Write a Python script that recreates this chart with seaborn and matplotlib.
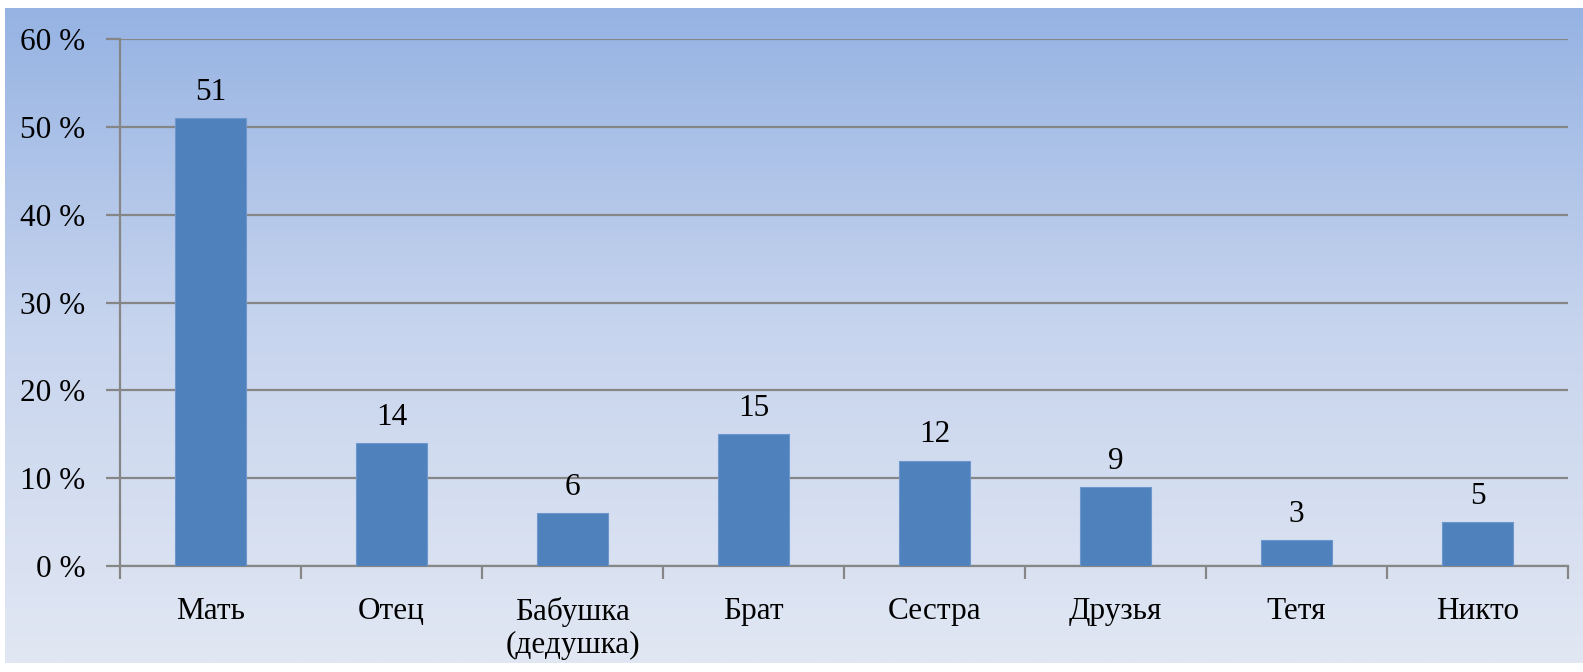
import numpy as np
import pandas as pd
import matplotlib
matplotlib.use("Agg")
import matplotlib.pyplot as plt
import matplotlib.ticker as mticker
from matplotlib.colors import LinearSegmentedColormap
import seaborn as sns

# ── Data ──────────────────────────────────────────────────────────────────
categories = ["Мать", "Отец", "Бабушка\n(дедушка)", "Брат", "Сестра",
              "Друзья", "Тетя", "Никто"]
values = [51, 14, 6, 15, 12, 9, 3, 5]
y_ticks = [0, 10, 20, 30, 40, 50, 60]

BAR_COLOR = "#4f81bd"
GRID_COLOR = "#868686"
FS = 22.5

sns.set_style("white")
plt.rcParams["font.family"] = ["Liberation Serif", "DejaVu Serif"]

fig = plt.figure(figsize=(15.83, 6.72), dpi=100)
fig.patch.set_facecolor("white")

# ── Gradient background ───────────────────────────────────────────────────
bg = fig.add_axes([5 / 1583, 9 / 672, 1 - 5 / 1583, 655 / 672], zorder=0)
cmap = LinearSegmentedColormap.from_list("bg", ["#e1e7f3", "#c8d5ee", "#96b3e3"])
grad = np.linspace(0, 1, 256).reshape(-1, 1)
bg.imshow(grad, aspect="auto", cmap=cmap, origin="lower", extent=[0, 1, 0, 1])
bg.set_axis_off()

# ── Bars ──────────────────────────────────────────────────────────────────
ax = fig.add_axes([120 / 1583, 1 - 566 / 672, 1448 / 1583, 527 / 672], zorder=1)
ax.patch.set_alpha(0)

df = pd.DataFrame({"who": categories, "pct": values})
sns.barplot(data=df, x="who", y="pct", color=BAR_COLOR, saturation=1,
            width=0.39, linewidth=0.8, edgecolor="#6d97cc", ax=ax, zorder=3)
ax.bar_label(ax.containers[0], labels=[str(v) for v in values],
             padding=8, fontsize=FS, color="black")

ax.set_xlim(-0.5, len(categories) - 0.5)
ax.set_ylim(0, 60)
ax.set_yticks(y_ticks)
ax.yaxis.set_major_formatter(mticker.FuncFormatter(lambda v, _: f"{v:.0f} %"))
ax.set_xlabel("")
ax.set_ylabel("")

ax.grid(axis="y", color=GRID_COLOR, linewidth=1.6, zorder=0)
ax.grid(axis="x", visible=False)
for side in ["top", "right"]:
    ax.spines[side].set_visible(False)
for side in ["left", "bottom"]:
    ax.spines[side].set_color(GRID_COLOR)
    ax.spines[side].set_linewidth(1.6)

ax.tick_params(axis="y", left=True, length=10, width=1.6, color=GRID_COLOR,
               pad=15, labelsize=FS, labelcolor="black")
ax.tick_params(axis="x", which="major", length=0, pad=22, labelsize=FS,
               labelcolor="black")
ax.set_xticks(np.arange(-0.5, len(categories)), minor=True)
ax.tick_params(axis="x", which="minor", bottom=True, length=9, width=1.6,
               color=GRID_COLOR)

fig.savefig("out.png", dpi=100)
